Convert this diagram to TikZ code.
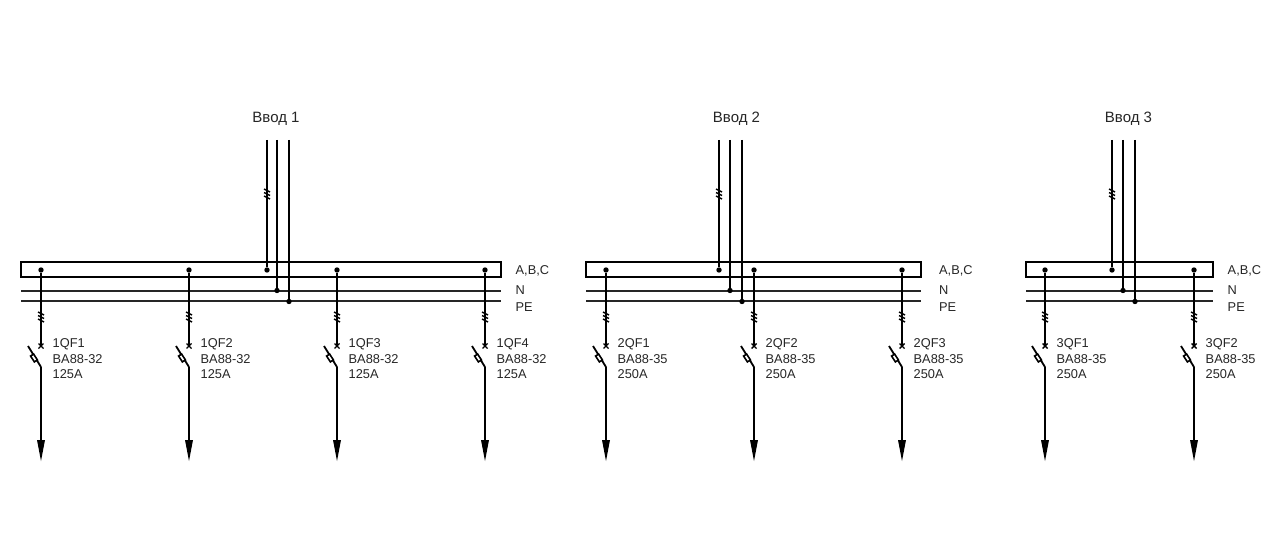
\documentclass[tikz,border=0pt]{standalone}
\usepackage{fontspec}
\setmainfont{Liberation Sans}
\tikzset{
  x=1pt,y=1pt,
  wire/.style={line width=1.8pt,black},
  thin wire/.style={line width=1.8pt,black!85},
  tick/.style={line width=1.4pt,black},
  bus box/.style={draw=black,line width=1.8pt,fill=none,inner sep=0pt,outer sep=0pt,minimum height=15pt},
  dot/.style={circle,fill=black,inner sep=0pt,minimum size=5.4pt},
  lbl/.style={font=\fontsize{12.8}{15}\selectfont,inner sep=0pt,anchor=west,text=black!85},
  title/.style={font=\fontsize{15}{17}\selectfont,inner sep=0pt,text=black!85}
}
% feeder: #1 x, #2 name, #3 type, #4 current, #5 id
\newcommand{\feeder}[5]{%
  \node[dot] (t#5) at (#1,280) {};
  \coordinate (sa#5) at (#1,204);
  \coordinate (sb#5) at (#1,183);
  \coordinate (bl#5) at (#1-13,204);
  \coordinate (e#5) at (#1,100);
  \draw[wire] (t#5) -- (sa#5);
  \draw[tick] (#1-2.5,206.5) -- (#1+2.5,201.5) (#1-2.5,201.5) -- (#1+2.5,206.5);
  \draw[tick] (#1-3,238) -- (#1+3,235) (#1-3,234.5) -- (#1+3,231.5) (#1-3,231) -- (#1+3,228);
  \draw[wire] (sb#5) -- (bl#5);
  \draw[line width=1.6pt,fill=white,rotate around={-57:(#1-7,192)}] (#1-7-3.5,192-1.8) rectangle (#1-7+3.5,192+1.8);
  \draw[wire] (sb#5) -- (e#5);
  \path[fill=black] (#1-4,110) -- (#1+4,110) -- (#1,89) -- cycle;
  \node[lbl] (n#5) at (#1+11.5,205.5) {#2};
  \node[lbl] (m#5) at (#1+11.5,190.5) {#3};
  \node[lbl] (c#5) at (#1+11.5,175.5) {#4};
}
% section: #1 left, #2 right, #3 lbl x, #4 #8 #9 input x, #5 title, #6 id, #7 title x
\newcommand{\busbar}[9]{%
  \node[bus box,minimum width=#2pt-#1pt,anchor=south west] (b#6) at (#1,273) {};
  \coordinate (nl#6) at (#1,259); \coordinate (nr#6) at (#2,259);
  \coordinate (pl#6) at (#1,249); \coordinate (pr#6) at (#2,249);
  \draw[thin wire] (nl#6) -- (nr#6) (pl#6) -- (pr#6);
  \node[lbl] (la#6) at (#3,279.5) {A,B,C};
  \node[lbl] (ln#6) at (#3,260) {N};
  \node[lbl] (lp#6) at (#3,243) {PE};
  \node[title] (ti#6) at (#7,431.5) {#5};
  \coordinate (ia#6) at (#4,410); \coordinate (in#6) at (#8,410); \coordinate (ip#6) at (#9,410);
  \node[dot] (da#6) at (#4,280) {};
  \node[dot] (dn#6) at (#8,259.5) {};
  \node[dot] (dp#6) at (#9,248.5) {};
  \draw[wire] (ia#6) -- (da#6);
  \draw[wire] (in#6) -- (dn#6);
  \draw[wire] (ip#6) -- (dp#6);
  \draw[tick] (#4-3,361) -- (#4+3,358) (#4-3,357.5) -- (#4+3,354.5) (#4-3,354) -- (#4+3,351);
}
\begin{document}
\begin{tikzpicture}
\useasboundingbox (0,0) rectangle (1280,550);
\fill[white] (0,0) rectangle (1280,550);
\busbar{21}{501}{515.5}{267}{Ввод 1}{1}{276}{277}{289}
\busbar{586}{921}{939}{719}{Ввод 2}{2}{736.5}{730}{742}
\busbar{1026}{1213}{1227.5}{1112}{Ввод 3}{3}{1128.5}{1123}{1135}
\feeder{41}{1QF1}{BA88-32}{125A}{a}
\feeder{189}{1QF2}{BA88-32}{125A}{b}
\feeder{337}{1QF3}{BA88-32}{125A}{c}
\feeder{485}{1QF4}{BA88-32}{125A}{d}
\feeder{606}{2QF1}{BA88-35}{250A}{e}
\feeder{754}{2QF2}{BA88-35}{250A}{f}
\feeder{902}{2QF3}{BA88-35}{250A}{g}
\feeder{1045}{3QF1}{BA88-35}{250A}{h}
\feeder{1194}{3QF2}{BA88-35}{250A}{i}
\end{tikzpicture}
\end{document}
